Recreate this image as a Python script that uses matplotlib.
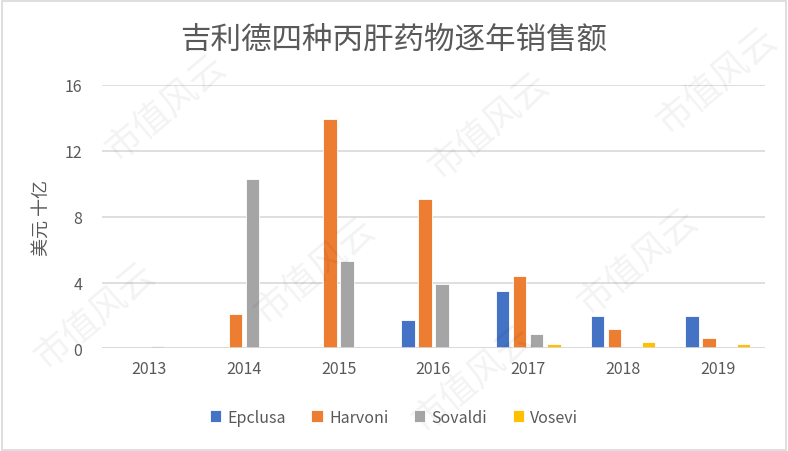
import matplotlib
matplotlib.use("Agg")
import matplotlib.pyplot as plt
import numpy as np
from matplotlib.patches import Rectangle

plt.rcParams['font.family'] = ['Noto Sans CJK SC', 'DejaVu Sans']

years = ['2013', '2014', '2015', '2016', '2017', '2018', '2019']
series = ['Epclusa', 'Harvoni', 'Sovaldi', 'Vosevi']
epclusa = [0, 0, 0, 1.71, 3.48, 1.98, 1.98]
harvoni = [0, 2.1, 13.9, 9.07, 4.39, 1.19, 0.64]
sovaldi = [0.14, 10.27, 5.28, 3.92, 0.88, 0, 0]
vosevi = [0, 0, 0, 0, 0.25, 0.4, 0.25]
colors = ['#4472C4', '#ED7D31', '#A5A5A5', '#FFC000']
yticks = [0, 4, 8, 12, 16]

title = '吉利德四种丙肝药物逐年销售额'
ylabel = '美元 十亿'

fig = plt.figure(figsize=(7.88, 4.52), dpi=100)
ax = fig.add_axes([0.129, 0.227, 0.842, 0.583])

x = np.arange(len(years))
pitch = 0.18
width = 0.143
data = [epclusa, harvoni, sovaldi, vosevi]
for i, (name, vals, c) in enumerate(zip(series, data, colors)):
    ax.bar(x + (i - 1.5) * pitch, vals, width=width, color=c, label=name,
           edgecolor='white', linewidth=0.6, zorder=3)

ax.set_xlim(-0.5, len(years) - 0.5)
ax.set_ylim(0, 16)
ax.set_yticks(yticks)
ax.set_yticklabels([str(t) for t in yticks])
ax.set_xticks(x)
ax.set_xticklabels(years)
ax.tick_params(axis='both', length=0, labelsize=11.5, colors='#595959', pad=8)
ax.tick_params(axis='y', pad=14)
ax.grid(axis='y', color='#D9D9D9', linewidth=1.2, zorder=0)
for s in ['top', 'right', 'left', 'bottom']:
    ax.spines[s].set_visible(False)
ax.axhline(0, color='#D9D9D9', linewidth=1.2, zorder=4)

ax.set_ylabel(ylabel, fontsize=13, color='#595959', labelpad=10)
fig.text(0.5, 0.912, title, ha='center', va='center', fontsize=22, color='#595959')

leg = fig.legend(loc='center', bbox_to_anchor=(0.5, 0.075), ncol=4, frameon=False,
                 fontsize=11.5, handlelength=0.7, handleheight=0.7, handletextpad=0.4,
                 columnspacing=1.6)
for t in leg.get_texts():
    t.set_color('#595959')

# faint watermark
wm = '市值风云'
for (px, py) in [(0.21, 0.76), (0.40, 0.40), (0.62, 0.72), (0.81, 0.42), (0.91, 0.82), (0.12, 0.30), (0.60, 0.16)]:
    fig.text(px, py, wm, ha='center', va='center', fontsize=26, color='#000000',
             alpha=0.05, rotation=40, zorder=0)

fig.patches.append(Rectangle((0.002, 0.003), 0.995, 0.993, transform=fig.transFigure,
                             fill=False, edgecolor='#D9D9D9', linewidth=1.2))

fig.savefig('out.png', dpi=100, facecolor='white')
